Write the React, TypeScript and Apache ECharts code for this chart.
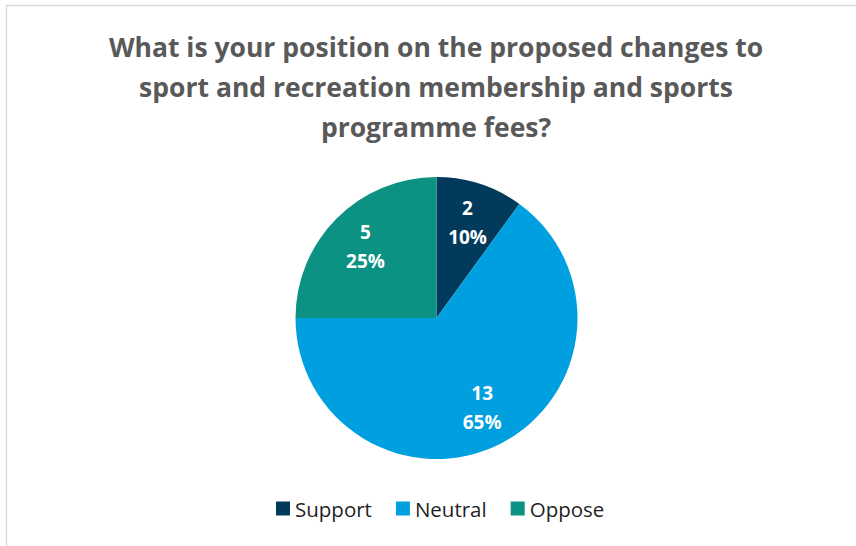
import React, { useEffect, useRef } from "react";
import * as echarts from "echarts";

const titleLines = [
  "What is your position on the proposed changes to",
  "sport and recreation membership and sports",
  "programme fees?",
];
const categories = ["Support", "Neutral", "Oppose"];
const counts = [2, 13, 5];
const colors = ["#023A5C", "#00A0E0", "#0B9282"];

export default function App() {
  const ref = useRef<HTMLDivElement>(null);
  useEffect(() => {
    if (!ref.current) return;
    const chart = echarts.init(ref.current, null, { renderer: "svg" });
    const data = categories.map((name, i) => ({
      name,
      value: counts[i],
      itemStyle: { color: colors[i] },
    }));
    const overlayData = categories.map((name, i) => ({
      name,
      value: counts[i],
      itemStyle: { color: "rgba(0,0,0,0)" },
    }));
    chart.setOption({
      animation: false,
      backgroundColor: "#ffffff",
      graphic: [
        {
          type: "rect",
          shape: { x: 6.5, y: 5.5, width: 900, height: 700 },
          style: { fill: "none", stroke: "#d9d9d9", lineWidth: 1.3 },
          silent: true,
        },
        {
          type: "text",
          x: 436,
          y: 27,
          style: {
            text: titleLines.join("\n"),
            textAlign: "center",
            textVerticalAlign: "top",
            fontFamily: "Open Sans",
            fontWeight: "bold",
            fontSize: 26.5,
            lineHeight: 40,
            fill: "#595959",
          },
        },
      ],
      legend: {
        data: categories,
        left: 276,
        top: 498,
        padding: 0,
        itemWidth: 14,
        itemHeight: 14,
        itemGap: 24,
        icon: "rect",
        textStyle: {
          fontFamily: "Open Sans",
          fontSize: 20.5,
          color: "#1f1f1f",
        },
      },
      series: [
        {
          type: "pie",
          center: [436.5, 318],
          radius: [0, 141],
          startAngle: 90,
          clockwise: true,
          label: { show: false },
          labelLine: { show: false },
          silent: true,
          data,
        },
        {
          type: "pie",
          center: [436.5, 318],
          radius: [0, 195],
          startAngle: 90,
          clockwise: true,
          percentPrecision: 0,
          silent: true,
          labelLine: { show: false },
          label: {
            show: true,
            position: "inside",
            formatter: "{c}\n{d}%",
            color: "#ffffff",
            fontFamily: "Open Sans",
            fontWeight: "bold",
            fontSize: 19,
            lineHeight: 29,
          },
          data: overlayData,
        },
      ],
    });
    return () => chart.dispose();
  }, []);
  return (
    <div
      ref={ref}
      style={{ position: "absolute", left: 0, top: 0, width: 856, height: 546 }}
    />
  );
}
